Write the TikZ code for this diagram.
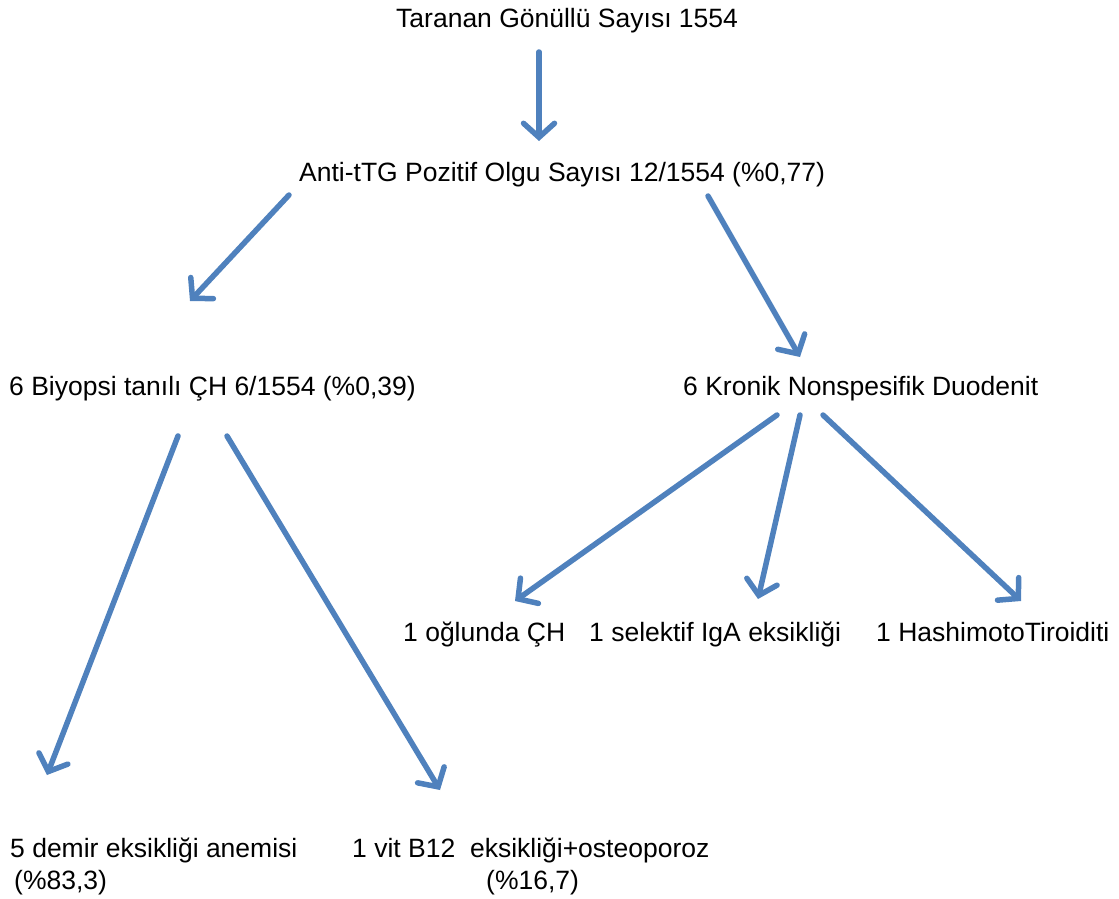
\documentclass[tikz,border=0pt]{standalone}
\usepackage{fontspec}
\setmainfont{Liberation Sans}
\usetikzlibrary{arrows.meta}
\definecolor{flowblue}{HTML}{4F81BD}
\begin{document}
\begin{tikzpicture}[x=1pt,y=-1pt,
  lbl/.style={anchor=base west,inner sep=0pt,font=\fontsize{26.5pt}{32pt}\selectfont},
  flow/.style={draw=flowblue,line width=5.5pt,line cap=round,line join=round,
    -{Straight Barb[length=14pt,width=31pt,line cap=round]}}]
\useasboundingbox (0,0) rectangle (1119,899);

% labels
\node[lbl] (root)  at (396,28)  {Taranan Gönüllü Sayısı 1554};
\node[lbl] (pos)   at (299,181) {Anti-tTG Pozitif Olgu Sayısı 12/1554 (\%0,77)};
\node[lbl] (biop)  at (9,395)   {6 Biyopsi tanılı ÇH 6/1554 (\%0,39)};
\node[lbl] (duod)  at (683,395) {6 Kronik Nonspesifik Duodenit};
\node[lbl] (son)   at (403,641) {1 oğlunda ÇH};
\node[lbl] (iga)   at (589,641) {1 selektif IgA eksikliği};
\node[lbl] (hash)  at (876,641) {1 HashimotoTiroiditi};
\node[lbl] (iron)  at (10,857)  {5 demir eksikliği anemisi};
\node[lbl] (ironp) at (14,889)  {(\%83,3)};
\node[lbl] (vit)   at (352,857) {1 vit B12\ \ eksikliği+osteoporoz};
\node[lbl] (vitp)  at (486,889) {(\%16,7)};

% arrow end points
\coordinate (a1) at (539,52);   \coordinate (b1) at (539,141);
\coordinate (a2) at (289,195);  \coordinate (b2) at (190,301);
\coordinate (a3) at (708,196);  \coordinate (b3) at (800,357);
\coordinate (a4) at (178,436);  \coordinate (b4) at (47,775);
\coordinate (a5) at (227,436);  \coordinate (b5) at (440,790);
\coordinate (a6) at (777,415);  \coordinate (b6) at (515,601);
\coordinate (a7) at (800,415);  \coordinate (b7) at (758,599);
\coordinate (a8) at (823,415);  \coordinate (b8) at (1021,601);

\draw[flow] (a1) -- (b1);
\draw[flow] (a2) -- (b2);
\draw[flow] (a3) -- (b3);
\draw[flow] (a4) -- (b4);
\draw[flow] (a5) -- (b5);
\draw[flow] (a6) -- (b6);
\draw[flow] (a7) -- (b7);
\draw[flow] (a8) -- (b8);
\end{tikzpicture}
\end{document}
